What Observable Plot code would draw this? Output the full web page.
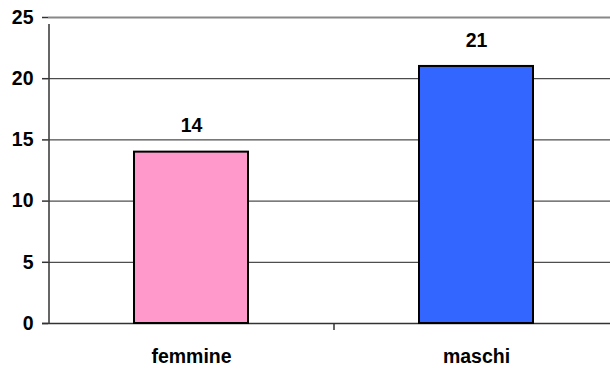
<!DOCTYPE html>
<html>
<head>
<meta charset="utf-8">
<script src="https://cdn.jsdelivr.net/npm/d3@7"></script>
<script src="https://cdn.jsdelivr.net/npm/@observablehq/plot@0.6"></script>
<style>
  html, body { margin: 0; padding: 0; background: #fff; overflow: hidden; }
  #chart svg { overflow: hidden; max-width: none; }
</style>
</head>
<body>
<div id="chart"></div>
<script>
const categories = ["femmine", "maschi"];
const counts = [14, 21];
const barColors = ["#FF99CC", "#3366FF"];
const yTicks = [0, 5, 10, 15, 20, 25];

const rows = categories.map((c, i) => ({ sesso: c, n: counts[i], fill: barColors[i] }));

const font = "'Liberation Sans', Arial, sans-serif";
const W = 610, H = 369;
const step = 285; // band step, used to place the boundary ticks

const chart = Plot.plot({
  width: W,
  height: H,
  marginLeft: 48,
  marginRight: -8,
  marginTop: 17,
  marginBottom: 46,
  style: { fontFamily: font, fontSize: "19px", fontWeight: "bold", color: "#000", background: "#fff" },
  x: { domain: categories, paddingInner: 0.6, paddingOuter: 0.3, axis: null },
  y: { domain: [0, 25], axis: null },
  marks: [
    // horizontal grid
    Plot.ruleY(yTicks.filter(t => t > 0 && t < 25), { stroke: "#222", strokeWidth: 1 }),
    Plot.ruleY([25], { stroke: "#888", strokeWidth: 2 }),
    // y axis ticks and labels
    Plot.axisY({ ticks: yTicks, tickSize: 6, tickPadding: 9, stroke: "#333", strokeWidth: 1.5, fontSize: 19.5, fontWeight: "bold", label: null }),
    // bottom axis line, starting at the 0 tick
    Plot.ruleY([0], { stroke: "#333", strokeWidth: 1.5, insetLeft: -6 }),
    // left axis line and category boundary ticks
    Plot.ruleX(categories.slice(0, 1), { x: d => d, y1: 0, y2: 25, dx: -step / 2, stroke: "#333", strokeWidth: 1.5, insetBottom: -7 }),
    Plot.ruleX(categories.slice(1), { x: d => d, y1: 0, y2: 0, dx: -step / 2, stroke: "#333", strokeWidth: 1.5, insetBottom: -7 }),
    // bars
    Plot.barY(rows, { x: "sesso", y: "n", fill: "fill", stroke: "#000", strokeWidth: 2 }),
    // value labels
    Plot.text(rows, { x: "sesso", y: "n", text: d => String(d.n), dy: -26, fontSize: 19.5, fontWeight: "bold", fill: "#000" }),
    // category labels
    Plot.text(rows, { x: "sesso", y: 0, text: "sesso", dy: 33, fontSize: 19.5, fontWeight: "bold", fill: "#000", letterSpacing: "1.8px" })
  ]
});

document.getElementById("chart").appendChild(chart);
</script>
</body>
</html>
